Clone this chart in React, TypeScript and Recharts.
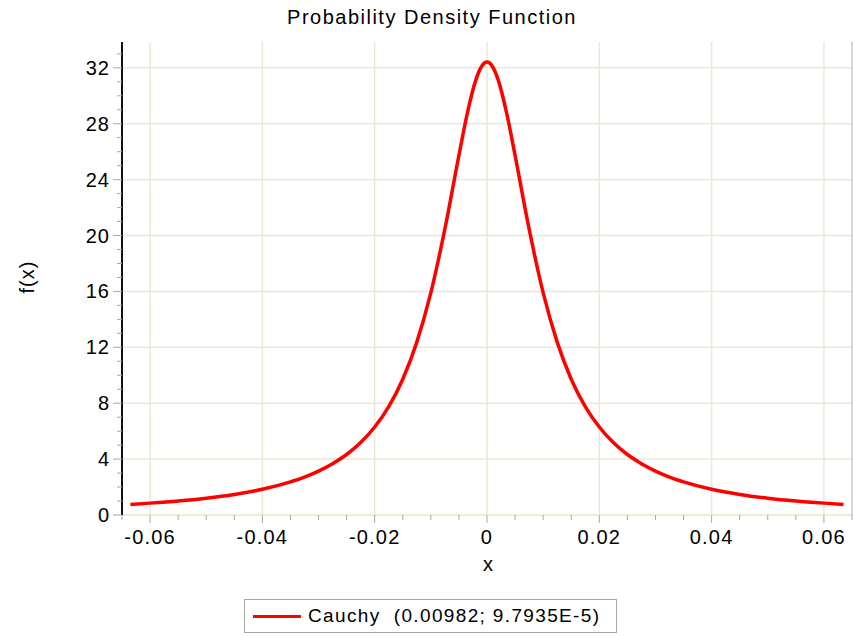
import { CartesianGrid, Line, LineChart, XAxis, YAxis } from 'recharts';

// values
const xValues = [
  -0.0635, -0.06, -0.055, -0.05, -0.045, -0.04, -0.035, -0.0325, -0.03, -0.0275, -0.025, -0.0225,
  -0.02, -0.0175, -0.015, -0.0125, -0.01, -0.0075, -0.005, -0.0035, -0.002, -0.001, 0,
  0.001, 0.002, 0.0035, 0.005, 0.0075, 0.01, 0.0125, 0.015, 0.0175, 0.02, 0.0225, 0.025,
  0.0275, 0.03, 0.0325, 0.035, 0.04, 0.045, 0.05, 0.055, 0.06, 0.0635,
];
const fValues = [
  0.76, 0.85, 1.0, 1.2, 1.47, 1.84, 2.37, 2.71, 3.14, 3.67, 4.33, 5.19,
  6.3, 7.76, 9.72, 12.37, 15.91, 20.47, 25.74, 28.76, 31.12, 32.08, 32.41,
  32.08, 31.12, 28.76, 25.74, 20.47, 15.91, 12.37, 9.72, 7.76, 6.3, 5.19, 4.33,
  3.67, 3.14, 2.71, 2.37, 1.84, 1.47, 1.2, 1.0, 0.85, 0.76,
];

const xMajorTicks = [-0.06, -0.04, -0.02, 0, 0.02, 0.04, 0.06];
const xTickLabels = ['-0.06', '-0.04', '-0.02', '0', '0.02', '0.04', '0.06'];
const xMinorTicks = [
  -0.065, -0.06, -0.055, -0.05, -0.045, -0.04, -0.035, -0.03, -0.025, -0.02, -0.015, -0.01, -0.005,
  0, 0.005, 0.01, 0.015, 0.02, 0.025, 0.03, 0.035, 0.04, 0.045, 0.05, 0.055, 0.06, 0.065,
];
const yMajorTicks = [0, 4, 8, 12, 16, 20, 24, 28, 32];
const yMinorTicks = [
  0, 1, 2, 3, 4, 5, 6, 7, 8, 9, 10, 11, 12, 13, 14, 15, 16, 17, 18, 19, 20, 21, 22, 23, 24,
  25, 26, 27, 28, 29, 30, 31, 32, 33,
];

const data = xValues.map((x, i) => ({ x, f: fValues[i] }));

const FONT = '"Liberation Sans", Arial, sans-serif';
const TICK = '#a8a8a0';
const GRID = '#ece8d6';

const majorIndex = (v: number, list: number[]) => list.findIndex((m) => Math.abs(m - v) < 1e-9);

function XTick({ x, y, payload }: any) {
  const i = majorIndex(payload.value, xMajorTicks);
  if (i < 0) return <line x1={x} x2={x} y1={y} y2={y + 5} stroke={TICK} />;
  return (
    <g>
      <line x1={x} x2={x} y1={y} y2={y + 8} stroke={TICK} />
      <text x={x} y={y + 29} textAnchor="middle" fontSize={20} fill="#000" fontFamily={FONT} letterSpacing={1.2}>
        {xTickLabels[i]}
      </text>
    </g>
  );
}

function YTick({ x, y, payload }: any) {
  const i = majorIndex(payload.value, yMajorTicks);
  if (i < 0) return <line x1={x - 5} x2={x} y1={y} y2={y} stroke={TICK} />;
  return (
    <g>
      <line x1={x - 9} x2={x} y1={y} y2={y} stroke={TICK} />
      <text x={x - 12} y={y + 7} textAnchor="end" fontSize={20} fill="#000" fontFamily={FONT} letterSpacing={1}>
        {yMajorTicks[i]}
      </text>
    </g>
  );
}

export default function App() {
  return (
    <div style={{ position: 'absolute', left: 0, top: 0, width: 854, height: 636, background: '#fff', fontFamily: FONT }}>
      <LineChart width={854} height={636} data={data} margin={{ top: 42, right: 1, bottom: 0, left: 0 }}>
        <CartesianGrid
          stroke={GRID}
          strokeWidth={1.5}
          horizontalValues={yMajorTicks}
          verticalValues={xMajorTicks}
        />
        <XAxis
          dataKey="x"
          type="number"
          domain={[-0.065, 0.065]}
          ticks={xMinorTicks}
          interval={0}
          height={121}
          tickSize={0}
          tickMargin={0}
          tickLine={false}
          axisLine={{ stroke: GRID }}
          tick={XTick}
        />
        <XAxis
          xAxisId="top"
          orientation="top"
          dataKey="x"
          type="number"
          domain={[-0.065, 0.065]}
          height={0}
          tick={false}
          tickLine={false}
          axisLine={{ stroke: '#111', strokeWidth: 2 }}
        />
        <YAxis
          type="number"
          domain={[0, 33.85]}
          ticks={yMinorTicks}
          interval={0}
          width={122}
          tickSize={0}
          tickMargin={0}
          tickLine={false}
          axisLine={{ stroke: '#111', strokeWidth: 2 }}
          tick={YTick}
        />
        <YAxis
          yAxisId="right"
          orientation="right"
          type="number"
          domain={[0, 33.85]}
          width={1}
          tick={false}
          tickLine={false}
          axisLine={{ stroke: '#b0b0b0' }}
        />
        <Line
          type="monotone"
          dataKey="f"
          stroke="#ff0000"
          strokeWidth={3.5}
          dot={false}
          activeDot={false}
          isAnimationActive={false}
        />
      </LineChart>

      <div style={{ position: 'absolute', left: 0, width: 864, top: 6, textAlign: 'center', fontSize: 20, letterSpacing: 1.5, color: '#000' }}>
        Probability Density Function
      </div>
      <div
        style={{
          position: 'absolute',
          left: 27,
          top: 277,
          transform: 'translate(-50%, -50%) rotate(-90deg)',
          fontSize: 20,
          letterSpacing: 1,
          whiteSpace: 'nowrap',
        }}
      >
        f(x)
      </div>
      <div style={{ position: 'absolute', left: 488, top: 564, transform: 'translate(-50%, -50%)', fontSize: 20 }}>x</div>

      <div
        style={{
          position: 'absolute',
          left: 244,
          top: 599,
          width: 371,
          height: 32,
          border: '1px solid #a8a8a0',
          display: 'flex',
          alignItems: 'center',
          boxSizing: 'content-box',
        }}
      >
        <div style={{ marginLeft: 8, width: 48, height: 3, background: '#ff0000' }} />
        <span style={{ marginLeft: 7, fontSize: 19, letterSpacing: 1.35, whiteSpace: 'pre' }}>
          Cauchy  (0.00982; 9.7935E-5)
        </span>
      </div>
    </div>
  );
}
